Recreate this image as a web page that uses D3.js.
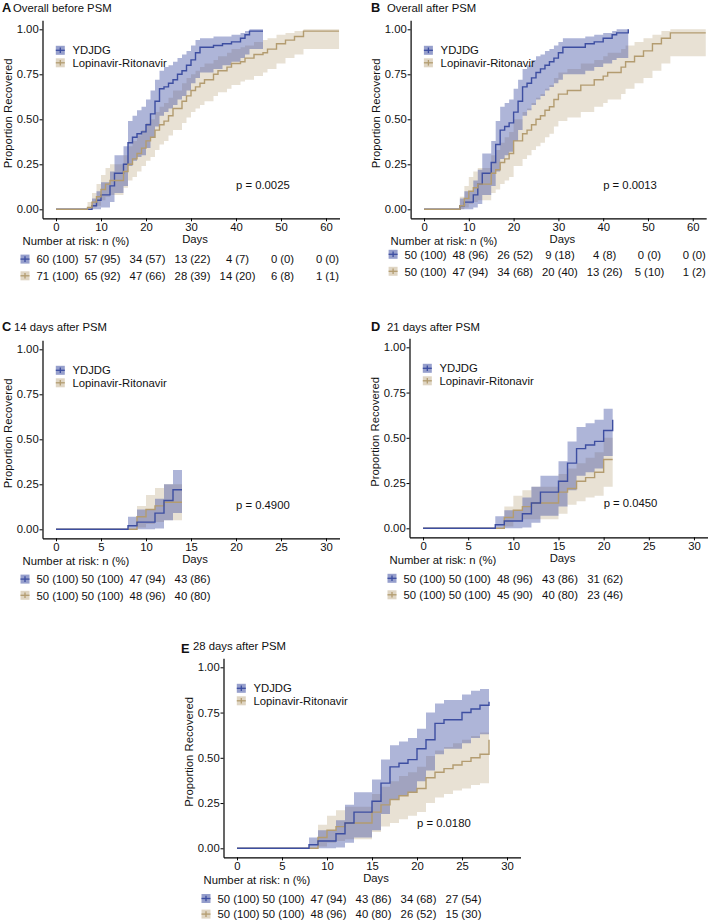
<!DOCTYPE html>
<html><head><meta charset="utf-8">
<script src="https://cdn.jsdelivr.net/npm/d3@7"></script>
<style>body{margin:0;background:#fff}svg{display:block}</style>
</head><body>
<svg id="chart" width="708" height="920"></svg>
<script>
// ---------------- DATA ----------------
const groupNames = ["YDJDG", "Lopinavir-Ritonavir"];
const panelLetters = ["A", "B", "C", "D", "E"];
const panelTitles = ["Overall before PSM", "Overall after PSM", "14 days after PSM", "21 days after PSM", "28 days after PSM"];
const pValues = ["p = 0.0025", "p = 0.0013", "p = 0.4900", "p = 0.0450", "p = 0.0180"];
const yTickValues = [0, 0.25, 0.5, 0.75, 1];
const xTicksLong = [0, 10, 20, 30, 40, 50, 60];
const xTicksShort = [0, 5, 10, 15, 20, 25, 30];
const riskTimesLong = [0, 10, 20, 30, 40, 50, 60];
const riskTimesC = [0, 5, 10, 15];
const riskTimesD = [0, 5, 10, 15, 20];
const riskTimesE = [0, 5, 10, 15, 20, 25];

// [day, estimate, lower CI, upper CI] — cumulative proportion recovered
const kmA_YDJDG = [[0,0,0,0],[8,0.02,0,0.06],[9,0.05,0,0.10],[10,0.08,0.01,0.15],[12,0.13,0.04,0.21],[13,0.20,0.09,0.30],[15,0.25,0.13,0.35],[16,0.37,0.24,0.49],[17,0.40,0.27,0.52],[18,0.42,0.29,0.55],[19,0.43,0.30,0.57],[20,0.47,0.34,0.61],[21,0.53,0.40,0.66],[22,0.60,0.46,0.72],[23,0.67,0.52,0.77],[24,0.68,0.54,0.79],[25,0.70,0.56,0.80],[26,0.72,0.58,0.82],[27,0.75,0.61,0.84],[28,0.77,0.63,0.86],[29,0.80,0.66,0.88],[30,0.83,0.70,0.91],[31,0.87,0.73,0.94],[32,0.90,0.76,0.95],[35,0.91,0.78,0.96],[37,0.92,0.80,0.96],[39,0.93,0.82,0.97],[41,0.95,0.84,0.98],[42,0.97,0.86,0.99],[43,0.99,0.89,1.00],[46,0.99,0.89,1.00]];
const kmA_LPV = [[0,0,0,0],[7,0.01,0,0.04],[8,0.04,0.01,0.09],[9,0.07,0.02,0.14],[10,0.11,0.05,0.19],[11,0.14,0.07,0.23],[12,0.16,0.08,0.25],[15,0.21,0.12,0.30],[16,0.25,0.16,0.35],[17,0.28,0.18,0.38],[18,0.31,0.21,0.41],[19,0.34,0.24,0.44],[20,0.38,0.27,0.48],[21,0.40,0.29,0.50],[22,0.44,0.33,0.54],[23,0.47,0.36,0.57],[24,0.49,0.38,0.59],[25,0.52,0.41,0.62],[26,0.56,0.44,0.66],[28,0.60,0.48,0.70],[29,0.63,0.51,0.73],[30,0.66,0.54,0.75],[31,0.68,0.56,0.77],[32,0.70,0.58,0.79],[33,0.72,0.60,0.81],[35,0.75,0.63,0.83],[36,0.77,0.65,0.85],[38,0.79,0.67,0.87],[39,0.81,0.69,0.89],[41,0.82,0.71,0.90],[42,0.84,0.72,0.91],[44,0.86,0.74,0.93],[46,0.87,0.76,0.94],[47,0.89,0.78,0.95],[49,0.92,0.81,0.97],[51,0.94,0.84,0.98],[53,0.96,0.86,0.99],[55,0.99,0.89,1.00],[62.9,0.99,0.89,1.00]];

const kmB_YDJDG = [[0,0,0,0],[8,0.02,0,0.06],[9,0.04,0,0.10],[11,0.08,0.01,0.16],[12,0.14,0.03,0.22],[13,0.20,0.08,0.31],[15,0.26,0.13,0.38],[16,0.36,0.21,0.49],[17,0.44,0.28,0.57],[18,0.46,0.30,0.59],[19,0.48,0.32,0.61],[20,0.54,0.38,0.67],[21,0.60,0.44,0.72],[22,0.68,0.52,0.78],[23,0.70,0.55,0.80],[24,0.73,0.58,0.83],[25,0.76,0.61,0.85],[26,0.78,0.63,0.86],[27,0.80,0.66,0.88],[28,0.82,0.68,0.89],[29,0.84,0.70,0.91],[30,0.87,0.72,0.93],[31,0.90,0.75,0.95],[36,0.92,0.77,0.96],[38,0.93,0.79,0.97],[40,0.95,0.81,0.98],[42,0.97,0.83,0.99],[43,0.98,0.84,1.00],[45.6,1.00,0.84,1.00]];
const kmB_LPV = [[0,0,0,0],[8,0.02,0,0.07],[9,0.06,0.01,0.13],[10,0.10,0.03,0.18],[11,0.12,0.04,0.21],[12,0.14,0.05,0.23],[15,0.20,0.09,0.30],[16,0.22,0.11,0.33],[17,0.26,0.14,0.37],[18,0.28,0.16,0.40],[19,0.31,0.18,0.43],[20,0.38,0.24,0.50],[22,0.42,0.28,0.54],[23,0.44,0.30,0.56],[24,0.47,0.33,0.59],[25,0.50,0.35,0.62],[26,0.52,0.37,0.64],[27,0.55,0.40,0.67],[28,0.57,0.42,0.69],[29,0.61,0.46,0.73],[30,0.64,0.49,0.76],[32,0.66,0.51,0.78],[35,0.69,0.54,0.81],[38,0.72,0.57,0.83],[40,0.74,0.59,0.85],[41,0.76,0.61,0.87],[44,0.79,0.64,0.89],[45,0.82,0.67,0.91],[47,0.85,0.70,0.93],[49,0.88,0.73,0.95],[51,0.92,0.77,0.97],[53,0.95,0.81,0.99],[55,0.98,0.85,1.00],[62.9,0.98,0.85,1.00]];

const kmC_YDJDG = [[0,0,0,0],[8,0.02,0,0.07],[9,0.04,0,0.11],[11,0.09,0.005,0.17],[12,0.16,0.05,0.25],[13,0.22,0.09,0.33],[14,0.22,0.09,0.33]];
const kmC_LPV = [[0,0,0,0],[9,0.07,0.01,0.13],[10,0.11,0.03,0.19],[11,0.13,0.04,0.23],[12,0.15,0.05,0.25],[14,0.15,0.05,0.25]];

const kmD_YDJDG = [[0,0,0,0],[8,0.02,0,0.066],[9,0.04,0,0.10],[11,0.08,0.005,0.17],[12,0.14,0.03,0.23],[13,0.20,0.07,0.29],[15,0.26,0.12,0.37],[16,0.36,0.21,0.48],[17,0.44,0.29,0.56],[18,0.46,0.31,0.58],[19,0.48,0.33,0.60],[20,0.54,0.40,0.66],[21,0.60,0.40,0.66]];
const kmD_LPV = [[0,0,0,0],[9,0.06,0.01,0.12],[10,0.10,0.04,0.18],[11,0.12,0.05,0.21],[12,0.14,0.05,0.23],[15,0.20,0.08,0.30],[16,0.22,0.13,0.33],[17,0.26,0.15,0.36],[18,0.28,0.17,0.39],[19,0.31,0.18,0.42],[20,0.38,0.23,0.50],[21,0.38,0.23,0.50]];

const kmE_YDJDG = [[0,0,0,0],[8,0.02,0,0.06],[9,0.04,0,0.10],[11,0.08,0.005,0.155],[12,0.14,0.03,0.24],[13,0.20,0.06,0.31],[15,0.26,0.10,0.38],[16,0.36,0.19,0.49],[17,0.45,0.27,0.57],[18,0.47,0.29,0.59],[19,0.49,0.31,0.61],[20,0.55,0.37,0.66],[21,0.60,0.43,0.75],[22,0.69,0.52,0.80],[23,0.71,0.55,0.82],[25,0.75,0.58,0.85],[26,0.77,0.61,0.87],[27,0.79,0.63,0.88],[28,0.81,0.63,0.88]];
const kmE_LPV = [[0,0,0,0],[9,0.06,0.01,0.13],[10,0.10,0.03,0.18],[11,0.12,0.04,0.21],[12,0.14,0.05,0.23],[15,0.20,0.09,0.30],[16,0.24,0.12,0.34],[17,0.27,0.14,0.37],[18,0.29,0.16,0.40],[19,0.31,0.18,0.42],[20,0.33,0.20,0.45],[21,0.39,0.25,0.51],[22,0.42,0.28,0.54],[23,0.44,0.30,0.56],[24,0.46,0.32,0.58],[25,0.48,0.33,0.60],[26,0.50,0.35,0.62],[27,0.52,0.36,0.64],[28,0.60,0.36,0.64]];

const riskA_YDJDG = ["60 (100)", "57 (95)", "34 (57)", "13 (22)", "4 (7)", "0 (0)", "0 (0)"];
const riskA_LPV = ["71 (100)", "65 (92)", "47 (66)", "28 (39)", "14 (20)", "6 (8)", "1 (1)"];
const riskB_YDJDG = ["50 (100)", "48 (96)", "26 (52)", "9 (18)", "4 (8)", "0 (0)", "0 (0)"];
const riskB_LPV = ["50 (100)", "47 (94)", "34 (68)", "20 (40)", "13 (26)", "5 (10)", "1 (2)"];
const riskC_YDJDG = ["50 (100)", "50 (100)", "47 (94)", "43 (86)"];
const riskC_LPV = ["50 (100)", "50 (100)", "48 (96)", "40 (80)"];
const riskD_YDJDG = ["50 (100)", "50 (100)", "48 (96)", "43 (86)", "31 (62)"];
const riskD_LPV = ["50 (100)", "50 (100)", "45 (90)", "40 (80)", "23 (46)"];
const riskE_YDJDG = ["50 (100)", "50 (100)", "47 (94)", "43 (86)", "34 (68)", "27 (54)"];
const riskE_LPV = ["50 (100)", "50 (100)", "48 (96)", "40 (80)", "26 (52)", "15 (30)"];

// ---------------- STYLE / LAYOUT ----------------
const FONT = "'Liberation Sans', Arial, Helvetica, sans-serif";
const FS = 11.3;
const blueCol = "#3D4EA1", tanCol = "#B39C70";
const blueOp = 0.42, tanOp = 0.30;

const panels = [
  {i:0, yd:kmA_YDJDG, lpv:kmA_LPV, rt:riskTimesLong, ry:riskA_YDJDG, rl:riskA_LPV, ticks:xTicksLong,
   xDom:[-3,63], xR:[42.5,339.5], yR:[218.3,20.3], letter:[2,11.7], title:[13,11.7], rows:[263.3,280], pDay:40, tanTop:true},
  {i:1, yd:kmB_YDJDG, lpv:kmB_LPV, rt:riskTimesLong, ry:riskB_YDJDG, rl:riskB_LPV, ticks:xTicksLong,
   xDom:[-3,63], xR:[410.6,706.2], yR:[218.3,20.3], letter:[371,11.7], title:[387,11.7], rows:[258.5,275.5], pDay:40, tanTop:true},
  {i:2, yd:kmC_YDJDG, lpv:kmC_LPV, rt:riskTimesC, ry:riskC_YDJDG, rl:riskC_LPV, ticks:xTicksShort,
   xDom:[-1.5,31.5], xR:[42.5,339.5], yR:[538.3,340.3], letter:[2,330.7], title:[14,330.7], rows:[583.3,599.5], pDay:20, tanTop:false},
  {i:3, yd:kmD_YDJDG, lpv:kmD_LPV, rt:riskTimesD, ry:riskD_YDJDG, rl:riskD_LPV, ticks:xTicksShort,
   xDom:[-1.5,31.5], xR:[409.5,707.5], yR:[537.35,338.25], letter:[371,330.7], title:[387,330.7], rows:[582.5,599], pDay:20, tanTop:false},
  {i:4, yd:kmE_YDJDG, lpv:kmE_LPV, rt:riskTimesE, ry:riskE_YDJDG, rl:riskE_LPV, ticks:xTicksShort,
   xDom:[-1.5,31.5], xR:[223.5,520.5], yR:[857.35,658.25], letter:[181,652.5], title:[193,650], rows:[902.7,918.3], pDay:20, tanTop:false}
];

const svg = d3.select("#chart");
svg.append("rect").attr("width",708).attr("height",920).attr("fill","#fff");

function keyIcon(g, cx, cy, col, op) {
  g.append("rect").attr("x", cx-4.5).attr("y", cy-4.5).attr("width", 9).attr("height", 9)
    .attr("fill", col).attr("fill-opacity", op + 0.12);
  g.append("line").attr("x1", cx-4.5).attr("x2", cx+4.5).attr("y1", cy).attr("y2", cy)
    .attr("stroke", col).attr("stroke-width", 1.3);
  g.append("line").attr("x1", cx).attr("x2", cx).attr("y1", cy-2.8).attr("y2", cy+2.8)
    .attr("stroke", col).attr("stroke-width", 1.3);
}

function txt(g, x, y, s, opt = {}) {
  return g.append("text").attr("x", x).attr("y", y).text(s)
    .attr("font-family", FONT).attr("font-size", opt.fs || FS)
    .attr("font-weight", opt.bold ? "bold" : "normal")
    .attr("text-anchor", opt.anchor || "start").attr("fill", "#111");
}

panels.forEach(p => {
  const g = svg.append("g");
  const x = d3.scaleLinear().domain(p.xDom).range(p.xR);
  const y = d3.scaleLinear().domain([-0.05, 1.05]).range(p.yR);
  const area = d3.area().curve(d3.curveStepAfter).x(d => x(d[0])).y0(d => y(d[2])).y1(d => y(d[3]));
  const line = d3.line().curve(d3.curveStepAfter).x(d => x(d[0])).y(d => y(d[1]));

  g.append("path").datum(p.lpv).attr("d", area).attr("fill", tanCol).attr("fill-opacity", tanOp);
  g.append("path").datum(p.yd).attr("d", area).attr("fill", blueCol).attr("fill-opacity", blueOp);

  const drawLine = (data, col) => g.append("path").datum(data).attr("d", line)
    .attr("fill", "none").attr("stroke", col).attr("stroke-width", 1.4);
  if (p.tanTop) { drawLine(p.yd, blueCol); drawLine(p.lpv, tanCol); }
  else { drawLine(p.lpv, tanCol); drawLine(p.yd, blueCol); }

  // axes
  const ax = g.append("g").attr("transform", `translate(0,${p.yR[0]})`)
    .call(d3.axisBottom(x).tickValues(p.ticks).tickSize(3).tickPadding(2).tickSizeOuter(0));
  const ay = g.append("g").attr("transform", `translate(${p.xR[0]},0)`)
    .call(d3.axisLeft(y).tickValues(yTickValues).tickFormat(d3.format(".2f")).tickSize(3).tickPadding(0.8).tickSizeOuter(0));
  [ax, ay].forEach(a => {
    a.attr("font-family", FONT).attr("font-size", FS);
    a.select(".domain").attr("stroke", "#000").attr("stroke-width", 1.2);
    a.selectAll(".tick line").attr("stroke", "#000").attr("stroke-width", 1);
    a.selectAll(".tick text").attr("fill", "#111");
  });

  // titles
  txt(g, p.letter[0], p.letter[1], panelLetters[p.i], {bold: true, fs: 12.8});
  txt(g, p.title[0], p.title[1], panelTitles[p.i]);

  // y label
  g.append("text").attr("transform", `translate(${p.xR[0] - 31},${y(0.5) - 6}) rotate(-90)`)
    .attr("text-anchor", "middle").attr("font-family", FONT).attr("font-size", FS).attr("fill", "#111")
    .text("Proportion Recovered");

  // x label
  txt(g, (p.xR[0] + p.xR[1]) / 2 + 4, p.yR[0] + 24.5, "Days", {anchor: "middle"});

  // legend
  const ly = y(1) + 25;
  [[blueCol, blueOp], [tanCol, tanOp]].forEach((c, k) => {
    const yb = ly + k * 12.5;
    keyIcon(g, p.xR[0] + 17.8, yb - 4, c[0], c[1]);
    txt(g, p.xR[0] + 30, yb, groupNames[k]);
  });

  // p value
  txt(g, x(p.pDay), y(0.115), pValues[p.i]);

  // risk table
  txt(g, p.xR[0] - 20, p.yR[0] + 26.5, "Number at risk: n (%)");
  [[p.ry, blueCol, blueOp], [p.rl, tanCol, tanOp]].forEach((r, k) => {
    const yb = p.rows[k];
    keyIcon(g, p.xR[0] - 17.5, yb - 4.2, r[1], r[2]);
    r[0].forEach((s, j) => txt(g, x(p.rt[j]) + 1.5, yb, s, {anchor: "middle"}));
  });
});
</script>
</body></html>
